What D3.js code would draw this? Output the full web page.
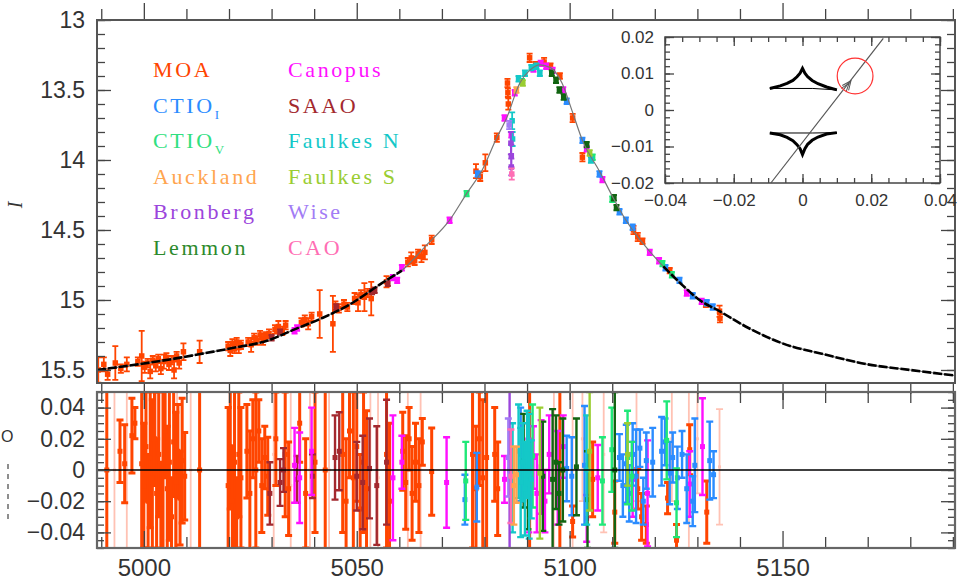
<!DOCTYPE html>
<html>
<head>
<meta charset="utf-8">
<title>Light curve and residuals</title>
<style>
  body { margin: 0; background: #fff; }
  svg { display: block; }
  .tick text { font-family: "Liberation Sans", Arial, sans-serif; fill: #333; }
  .tick line { stroke: #444; }
  .legend text { font-family: "Liberation Serif", "Times New Roman", serif; }
</style>
<script src="https://cdnjs.cloudflare.com/ajax/libs/d3/7.8.5/d3.min.js"></script>
</head>
<body>
<script>
const width = 957, height = 580

// model light curve (HJD-2450000, I mag)
const modelT = [4989, 4998.6, 5008.9, 5014.3, 5021.4, 5029.1, 5035.4, 5041.8, 5047.9, 5055.9, 5060.6, 5066, 5071.8, 5075.8, 5079.5, 5082.9, 5085.2, 5088.3, 5090.6, 5093, 5095.5, 5098.2, 5100.7, 5103, 5107, 5110.4, 5113, 5116, 5119, 5122, 5126, 5130.5, 5135.2, 5142, 5150, 5160, 5170, 5180, 5190.5]
const modelMag = [15.50, 15.46, 15.41, 15.38, 15.34, 15.29, 15.21, 15.13, 15.04, 14.88, 14.79, 14.62, 14.43, 14.24, 14.07, 13.84, 13.70, 13.45, 13.36, 13.32, 13.34, 13.45, 13.66, 13.86, 14.08, 14.28, 14.42, 14.55, 14.66, 14.76, 14.88, 15.00, 15.08, 15.20, 15.31, 15.39, 15.46, 15.50, 15.54]

// light curve points [t, mag, err]
const moaLC = [
  [4989.3, 15.50, 0.09], [4990.6, 15.46, 0.05], [4991.5, 15.53, 0.04], [4993.3, 15.45, 0.12], [4994.6, 15.49, 0.03],
  [4996.0, 15.46, 0.05], [4998.6, 15.44, 0.03], [4999.5, 15.40, 0.18], [5000.2, 15.48, 0.04], [5000.9, 15.45, 0.03],
  [5001.5, 15.51, 0.05], [5002.1, 15.43, 0.03], [5002.8, 15.47, 0.04], [5003.4, 15.42, 0.03], [5004.0, 15.49, 0.04],
  [5004.7, 15.44, 0.05], [5005.3, 15.41, 0.03], [5005.9, 15.46, 0.04], [5006.6, 15.43, 0.03], [5007.1, 15.50, 0.06],
  [5007.7, 15.40, 0.03], [5008.3, 15.45, 0.04], [5009.3, 15.37, 0.06], [5013.1, 15.37, 0.08],
  [5019.8, 15.33, 0.03], [5020.3, 15.36, 0.04], [5020.8, 15.31, 0.03], [5021.3, 15.35, 0.03], [5021.8, 15.30, 0.03],
  [5022.3, 15.34, 0.04], [5022.8, 15.32, 0.03], [5024.5, 15.30, 0.03], [5025.2, 15.32, 0.05], [5025.9, 15.27, 0.03],
  [5026.6, 15.29, 0.03], [5027.3, 15.25, 0.03], [5028.0, 15.28, 0.04], [5028.7, 15.26, 0.03], [5029.4, 15.24, 0.03],
  [5030.8, 15.21, 0.03], [5031.6, 15.19, 0.04], [5032.5, 15.22, 0.03], [5033.3, 15.18, 0.03], [5037.0, 15.16, 0.03],
  [5037.8, 15.14, 0.03], [5038.6, 15.17, 0.04], [5039.4, 15.12, 0.03], [5041.3, 15.10, 0.17], [5044.4, 15.17, 0.20],
  [5045.0, 15.04, 0.03], [5045.8, 15.06, 0.03], [5047.0, 15.03, 0.03], [5047.8, 15.05, 0.03], [5049.5, 14.99, 0.04],
  [5050.3, 15.02, 0.06], [5051.0, 14.96, 0.03], [5051.8, 14.98, 0.10], [5052.6, 14.95, 0.03], [5053.4, 14.99, 0.12],
  [5057.0, 14.87, 0.04], [5062.0, 14.73, 0.03], [5062.8, 14.70, 0.04], [5063.6, 14.72, 0.03], [5064.4, 14.67, 0.03],
  [5065.2, 14.69, 0.04], [5066.0, 14.66, 0.05], [5067.6, 14.57, 0.03], [5078.0, 14.08, 0.05], [5079.0, 14.12, 0.03],
  [5080.2, 14.02, 0.06], [5082.9, 13.84, 0.03], [5085.4, 13.45, 0.03], [5085.5, 13.52, 0.03], [5085.6, 13.60, 0.04],
  [5090.6, 13.27, 0.03], [5092.0, 13.32, 0.02], [5094.0, 13.30, 0.03], [5095.5, 13.33, 0.02], [5097.7, 13.40, 0.02],
  [5100.7, 13.70, 0.03], [5103.0, 13.98, 0.03], [5115.0, 14.50, 0.03], [5116.0, 14.55, 0.03], [5117.1, 14.58, 0.02],
  [5123.5, 14.79, 0.02], [5132.0, 15.03, 0.02], [5135.2, 15.08, 0.04], [5135.3, 15.13, 0.03]
]
const canopusLC = [
  [5035.4, 15.22, 0.02], [5036.0, 15.20, 0.02], [5058.5, 14.84, 0.02], [5059.5, 14.86, 0.02], [5060.6, 14.77, 0.02],
  [5071.8, 14.43, 0.02], [5084.7, 13.70, 0.02], [5086.3, 13.82, 0.02], [5087.1, 13.52, 0.02], [5091.5, 13.35, 0.02],
  [5093.2, 13.31, 0.02], [5094.5, 13.33, 0.02], [5096.0, 13.36, 0.02], [5098.5, 13.50, 0.02], [5104.0, 13.92, 0.02],
  [5107.7, 14.14, 0.02], [5118.8, 14.66, 0.02], [5121.0, 14.72, 0.02], [5127.5, 14.95, 0.02], [5131.0, 15.01, 0.02]
]
const ctioILC = [
  [5078.4, 14.10, 0.02], [5099.3, 13.58, 0.02], [5103.0, 13.86, 0.02], [5107.0, 14.10, 0.02], [5111.7, 14.37, 0.02],
  [5113.2, 14.43, 0.02], [5114.8, 14.48, 0.02], [5122.5, 14.77, 0.02], [5125.8, 14.86, 0.02], [5128.9, 14.97, 0.02],
  [5132.2, 15.02, 0.02], [5133.6, 15.05, 0.02]
]
const ctioVLC = [[5075.8, 14.24, 0.02], [5088.8, 13.44, 0.02], [5105.4, 13.98, 0.02], [5110.0, 14.28, 0.02], [5121.8, 14.74, 0.02], [5124.0, 14.82, 0.02]]
const lemmonLC = [[5095.8, 13.38, 0.02], [5096.8, 13.43, 0.02], [5097.6, 13.50, 0.02], [5098.6, 13.55, 0.02], [5104.0, 13.89, 0.02], [5110.4, 14.27, 0.02], [5111.0, 14.34, 0.02]]
const faulkesNLC = [[5086.5, 13.72, 0.06], [5086.6, 13.85, 0.05], [5088.0, 13.42, 0.02], [5089.5, 13.38, 0.02], [5091.0, 13.34, 0.02], [5092.2, 13.33, 0.02], [5093.0, 13.38, 0.02], [5105.0, 14.00, 0.02]]
const faulkesSLC = [[5089.0, 13.45, 0.02], [5104.7, 13.95, 0.02]]
const bronbergLC = [[5086.2, 13.88, 0.08], [5086.3, 13.97, 0.08], [5086.3, 14.05, 0.06]]
const caoLC = [[5086.4, 14.10, 0.04]]
const saaoLC = [[5030.0, 15.27, 0.02], [5032.0, 15.23, 0.02], [5045.2, 15.05, 0.02], [5053.6, 14.94, 0.02], [5054.2, 14.93, 0.02], [5057.3, 14.88, 0.02]]
const aucklandLC = [[5087.5, 13.50, 0.02]]
const wiseLC = [[5085.8, 13.75, 0.03]]

// residuals [t, obs - model, err]
const moaRes = [
  [4991.3, 0.0, 0.12], [4994.4, 0.012, 0.02], [4995.5, 0.004, 0.025], [4997.2, 0.022, 0.024], [4997.9, 0.030, 0.010],
  [4999.5, 0.004, 0.055], [5000.0, -0.010, 0.040], [5000.5, 0.015, 0.035], [5001.0, -0.020, 0.030], [5001.5, 0.008, 0.045],
  [5002.0, -0.005, 0.050], [5002.5, 0.020, 0.030], [5003.0, -0.015, 0.035], [5003.5, 0.010, 0.040], [5004.0, -0.025, 0.030],
  [5004.5, 0.000, 0.055], [5005.0, 0.025, 0.030], [5005.5, -0.012, 0.040], [5006.0, 0.005, 0.050], [5006.5, -0.030, 0.025],
  [5007.0, 0.018, 0.035], [5007.5, -0.008, 0.045], [5008.0, 0.012, 0.030], [5008.5, -0.018, 0.030], [5009.0, 0.006, 0.040],
  [5009.6, -0.004, 0.028], [5013.1, 0.0, 0.12],
  [5019.8, -0.010, 0.050], [5020.3, 0.015, 0.040], [5020.8, -0.020, 0.035], [5021.3, 0.005, 0.055], [5021.8, -0.030, 0.025],
  [5022.3, 0.010, 0.040], [5022.8, -0.005, 0.045], [5024.2, 0.012, 0.030], [5024.9, -0.015, 0.040], [5025.6, 0.020, 0.025],
  [5026.3, 0.000, 0.050], [5027.0, 0.025, 0.020], [5027.7, -0.010, 0.030], [5028.4, 0.008, 0.020], [5029.1, -0.004, 0.025],
  [5031.0, 0.020, 0.030], [5033.2, 0.010, 0.040], [5034.0, -0.012, 0.030], [5036.6, 0.030, 0.025], [5038.0, -0.015, 0.035],
  [5040.2, 0.005, 0.045], [5042.6, 0.0, 0.10],
  [5046.7, 0.010, 0.050], [5047.5, -0.020, 0.040], [5048.3, 0.025, 0.030], [5049.2, -0.005, 0.055], [5050.0, 0.015, 0.035],
  [5050.8, -0.025, 0.035], [5051.6, 0.005, 0.045], [5052.3, -0.012, 0.050], [5057.0, 0.010, 0.060], [5057.7, -0.020, 0.050],
  [5060.8, 0.012, 0.025], [5061.5, -0.008, 0.030], [5062.3, 0.020, 0.020], [5063.0, -0.015, 0.030], [5063.8, 0.005, 0.025],
  [5064.6, -0.010, 0.030], [5065.4, 0.018, 0.015], [5067.6, -0.001, 0.028],
  [5077.2, 0.010, 0.060], [5078.0, -0.012, 0.040], [5078.8, 0.020, 0.030], [5079.6, -0.005, 0.050], [5080.5, 0.008, 0.060],
  [5082.4, 0.010, 0.030], [5083.1, -0.012, 0.030], [5090.6, 0.0, 0.08], [5097.7, 0.0, 0.06],
  [5100.7, -0.033, 0.010], [5105.4, -0.006, 0.024], [5110.6, -0.027, 0.020], [5116.0, -0.012, 0.013], [5116.9, -0.030, 0.015],
  [5118.0, -0.035, 0.012], [5123.0, -0.018, 0.010], [5125.1, -0.045, 0.010], [5128.2, 0.013, 0.016], [5132.2, -0.027, 0.020]
]
// low-weight MOA points (drawn pale)
const moaResFaint = [
  [4993.1, 0.0, 0.10], [4996.0, 0.0, 0.10], [5003.0, -0.010, 0.060], [5007.8, 0.0, 0.080], [5011.0, 0.0, 0.10],
  [5030.5, 0.010, 0.060], [5034.5, -0.010, 0.070], [5039.0, 0.0, 0.080], [5043.5, 0.0, 0.080], [5053.2, 0.0, 0.070],
  [5055.0, -0.005, 0.060], [5062.0, 0.0, 0.050], [5065.0, 0.003, 0.060], [5096.3, 0.0, 0.070], [5100.7, 0.0, 0.055],
  [5103.0, 0.020, 0.040], [5108.0, 0.010, 0.050], [5115.7, 0.015, 0.035], [5124.0, 0.020, 0.040], [5128.0, 0.0, 0.060],
  [5130.0, 0.020, 0.035], [5135.2, 0.002, 0.037]
]
const saaoRes = [
  [5029.6, -0.015, 0.020], [5032.0, -0.008, 0.015], [5032.8, 0.000, 0.014], [5036.0, -0.006, 0.015], [5039.6, -0.004, 0.014],
  [5044.9, 0.008, 0.027], [5045.9, 0.012, 0.025], [5050.0, -0.004, 0.022], [5051.4, -0.008, 0.030], [5053.0, 0.001, 0.032],
  [5054.7, -0.010, 0.038], [5057.0, 0.005, 0.040]
]
const canopusRes = [
  [5035.4, 0.003, 0.024], [5036.6, -0.005, 0.029], [5039.4, 0.012, 0.028], [5058.5, -0.005, 0.040], [5060.6, 0.005, 0.017],
  [5071.1, -0.008, 0.029], [5084.7, -0.006, 0.015], [5088.8, 0.005, 0.025], [5090.4, -0.010, 0.030], [5091.5, 0.008, 0.020],
  [5092.3, -0.015, 0.025], [5093.3, 0.002, 0.030], [5094.2, -0.020, 0.020], [5095.2, 0.010, 0.025], [5097.2, -0.005, 0.030],
  [5098.5, 0.015, 0.020], [5104.0, -0.031, 0.015], [5106.6, -0.005, 0.021], [5114.8, -0.006, 0.024], [5118.3, -0.015, 0.034],
  [5128.2, -0.009, 0.021], [5131.2, 0.015, 0.031]
]
const ctioIRes = [
  [5075.4, -0.019, 0.016], [5078.2, -0.011, 0.022], [5088.5, 0.010, 0.030], [5099.3, 0.001, 0.021], [5100.5, -0.004, 0.025],
  [5103.5, 0.003, 0.038], [5111.7, 0.008, 0.015], [5112.5, -0.010, 0.020], [5113.3, 0.004, 0.025], [5114.0, -0.015, 0.018],
  [5114.8, 0.010, 0.020], [5115.6, -0.004, 0.030], [5116.5, 0.014, 0.012], [5117.3, -0.020, 0.015], [5118.0, 0.006, 0.018],
  [5119.5, 0.005, 0.022], [5121.6, 0.012, 0.022], [5122.4, 0.018, 0.015], [5123.5, -0.002, 0.020], [5124.2, 0.008, 0.016],
  [5125.3, -0.005, 0.020], [5126.4, 0.010, 0.015], [5127.5, -0.012, 0.022], [5128.9, -0.020, 0.016], [5129.4, 0.003, 0.030],
  [5132.9, 0.006, 0.025], [5133.8, -0.003, 0.015]
]
const ctioVRes = [
  [5075.6, -0.007, 0.025], [5091.3, 0.009, 0.033], [5107.7, -0.007, 0.028], [5109.9, 0.013, 0.027], [5113.6, 0.008, 0.030],
  [5114.6, -0.004, 0.022], [5122.8, 0.019, 0.025], [5125.1, -0.021, 0.022]
]
const lemmonRes = [
  [5089.2, 0.006, 0.030], [5090.2, -0.010, 0.028], [5093.7, -0.004, 0.035], [5096.0, -0.006, 0.045], [5096.8, 0.005, 0.030],
  [5097.5, -0.015, 0.020], [5098.4, 0.000, 0.033], [5101.6, 0.002, 0.031], [5104.2, -0.019, 0.031], [5110.6, 0.000, 0.050]
]
const faulkesNRes = [
  [5086.6, -0.005, 0.035], [5088.0, 0.012, 0.030], [5088.5, -0.008, 0.035], [5089.0, 0.005, 0.025], [5089.5, -0.012, 0.030],
  [5090.0, 0.010, 0.028], [5090.5, -0.004, 0.040], [5091.0, -0.006, 0.025], [5104.0, 0.000, 0.035]
]
const faulkesSRes = [[5093.0, -0.002, 0.042], [5104.7, 0.012, 0.038], [5113.6, 0.010, 0.020]]
const bronbergRes = [[5085.9, 0.0, 0.07]]
const wiseRes = [[5085.6, 0.008, 0.025]]
const caoRes = [[5086.2, -0.004, 0.030]]
const aucklandRes = [[5086.9, -0.010, 0.025], [5087.5, -0.003, 0.018]]

// legend
const legendCol1 = ["MOA", "CTIO_I", "CTIO_V", "Auckland", "Bronberg", "Lemmon"]
const legendCol2 = ["Canopus", "SAAO", "Faulkes N", "Faulkes S", "Wise", "CAO"]

// axis ticks
const xMajor = [5000, 5050, 5100, 5150]
const yMainTicks = [13, 13.5, 14, 14.5, 15, 15.5]
const yResTicks = [-0.04, -0.02, 0, 0.02, 0.04]

// inset: caustics and source path (theta_E units)
const causticUpX = [-0.0095, -0.0065, -0.0045, -0.0028, -0.0016, -0.0007, 0, 0.0007, 0.0015, 0.0028, 0.0045, 0.007, 0.0100, 0.003, -0.0095]
const causticUpY = [0.0059, 0.0066, 0.0073, 0.0081, 0.0091, 0.0101, 0.0114, 0.0101, 0.0091, 0.0081, 0.0072, 0.0063, 0.0055, 0.0059, 0.0059]
const causticLoX = [-0.0095, -0.0065, -0.0045, -0.0028, -0.0016, -0.0007, 0, 0.0007, 0.0015, 0.0028, 0.0045, 0.007, 0.0100, 0.003, -0.0095]
const causticLoY = [-0.0063, -0.0068, -0.0075, -0.0084, -0.0095, -0.0106, -0.0122, -0.0106, -0.0094, -0.0083, -0.0074, -0.0066, -0.0062, -0.0063, -0.0063]
const trajX = [-0.0092, 0.0235]
const trajY = [-0.020, 0.0196]
const sourceX = 0.0153, sourceY = 0.0093, sourceRho = 0.0052
const insetXLabels = [-0.04, -0.02, 0, 0.02, 0.04]
const insetYLabels = [-0.02, -0.01, 0, 0.01, 0.02]

const colors = {
  "MOA": "#ff4500", "CTIO_I": "#2b8cff", "CTIO_V": "#1fe878", "Auckland": "#ffa54f",
  "Bronberg": "#9b45dc", "Lemmon": "#116411", "Canopus": "#ff10ff", "SAAO": "#a3292e",
  "Faulkes N": "#14c8c8", "Faulkes S": "#9acd32", "Wise": "#a27cf5", "CAO": "#ff6eb4"
}
const legendColors = Object.assign({}, colors, { "Lemmon": "#2c8a2c", "CTIO_V": "#30e080" })

const svg = d3.select("body").append("svg").attr("width", width).attr("height", height)

const x = d3.scaleLinear().domain([4989, 5190.5]).range([97, 955])
const yMain = d3.scaleLinear().domain([13, 15.593]).range([20, 383])
const yRes = d3.scaleLinear().domain([-0.05, 0.05]).range([548, 392])

const defs = svg.append("defs")
defs.append("clipPath").attr("id", "clipMain").append("rect")
  .attr("x", x.range()[0]).attr("y", yMain.range()[0])
  .attr("width", x.range()[1] - x.range()[0]).attr("height", yMain.range()[1] - yMain.range()[0])
defs.append("clipPath").attr("id", "clipRes").append("rect")
  .attr("x", x.range()[0]).attr("y", yRes.range()[1])
  .attr("width", x.range()[1] - x.range()[0]).attr("height", yRes.range()[0] - yRes.range()[1])

function errPath(ys, cap) {
  return d => {
    const xx = x(d[0]), y1 = ys(d[1] - d[2]), y2 = ys(d[1] + d[2])
    return `M${xx},${y1}V${y2}M${xx - cap},${y1}H${xx + cap}M${xx - cap},${y2}H${xx + cap}`
  }
}

function drawSet(g, data, ys, color, sw, cap, size, op) {
  const s = g.append("g").attr("opacity", op)
  s.selectAll("path").data(data).join("path")
    .attr("d", errPath(ys, cap))
    .attr("fill", "none").attr("stroke", color).attr("stroke-width", sw)
  s.selectAll("rect").data(data).join("rect")
    .attr("x", d => x(d[0]) - size / 2).attr("y", d => ys(d[1]) - size / 2)
    .attr("width", size).attr("height", size).attr("fill", color)
}

// ---------- main panel ----------
const gMain = svg.append("g").attr("clip-path", "url(#clipMain)")
const lcSets = [
  [moaLC, "MOA"], [saaoLC, "SAAO"], [canopusLC, "Canopus"], [ctioILC, "CTIO_I"], [ctioVLC, "CTIO_V"],
  [lemmonLC, "Lemmon"], [faulkesNLC, "Faulkes N"], [faulkesSLC, "Faulkes S"], [bronbergLC, "Bronberg"],
  [wiseLC, "Wise"], [caoLC, "CAO"], [aucklandLC, "Auckland"]
]
lcSets.forEach(([data, name]) => drawSet(gMain, data, yMain, colors[name], 1.8, 3, 5.5, 1))

const model = d3.zip(modelT, modelMag)
const modelLine = d3.line().x(d => x(d[0])).y(d => yMain(d[1])).curve(d3.curveMonotoneX)
gMain.append("path").attr("d", modelLine(model))
  .attr("fill", "none").attr("stroke", "#777").attr("stroke-width", 1.2)
gMain.append("path").attr("d", modelLine(model.filter(d => d[0] < 5066)))
  .attr("fill", "none").attr("stroke", "#000").attr("stroke-width", 2.6).attr("stroke-dasharray", "9,2")
gMain.append("path").attr("d", modelLine(model.filter(d => d[0] > 5119)))
  .attr("fill", "none").attr("stroke", "#000").attr("stroke-width", 2.6).attr("stroke-dasharray", "9,2")

// ---------- residual panel ----------
const gRes = svg.append("g").attr("clip-path", "url(#clipRes)")
drawSet(gRes, moaResFaint, yRes, "#ff7a5a", 1.8, 3.5, 3, 0.45)
const resSets = [
  [moaRes, "MOA"], [saaoRes, "SAAO"], [canopusRes, "Canopus"], [ctioIRes, "CTIO_I"], [ctioVRes, "CTIO_V"],
  [lemmonRes, "Lemmon"], [faulkesNRes, "Faulkes N"], [faulkesSRes, "Faulkes S"], [bronbergRes, "Bronberg"],
  [wiseRes, "Wise"], [caoRes, "CAO"], [aucklandRes, "Auckland"]
]
resSets.forEach(([data, name]) => drawSet(gRes, data, yRes, colors[name], name === "MOA" ? 3 : 2.4, 3.5, 5, 1))
svg.append("line")
  .attr("x1", x.range()[0]).attr("x2", x.range()[1]).attr("y1", yRes(0)).attr("y2", yRes(0))
  .attr("stroke", "#000").attr("stroke-width", 1.6)

// ---------- axes ----------
function addAxis(gen, scale, vals, size, tx, ty, fmt, pad, fs) {
  const a = gen(scale).tickValues(vals).tickSizeInner(-size).tickSizeOuter(0).tickPadding(pad || 0)
  a.tickFormat(fmt || (() => ""))
  const g = svg.append("g").attr("transform", `translate(${tx},${ty})`).call(a)
  g.select(".domain").remove()
  g.selectAll(".tick line").attr("stroke-width", 1.3)
  if (fs) g.selectAll(".tick text").attr("font-size", fs)
  return g
}
const x10 = d3.range(4990, 5191, 10).filter(v => v % 50 !== 0)
const yMainMinor = d3.range(130, 156).map(v => v / 10)
const yResMinor = d3.range(-10, 11).map(v => v / 200)
const [xl, xr] = x.range()

// main panel
addAxis(d3.axisLeft, yMain, yMainTicks, 14, xl, 0, d3.format("~g"), 12, 23)
addAxis(d3.axisLeft, yMain, yMainMinor, 8, xl, 0)
addAxis(d3.axisRight, yMain, yMainTicks, 14, xr, 0)
addAxis(d3.axisRight, yMain, yMainMinor, 8, xr, 0)
addAxis(d3.axisTop, x, xMajor, 17, 0, yMain.range()[1])
addAxis(d3.axisTop, x, x10, 11, 0, yMain.range()[1])
addAxis(d3.axisBottom, x, xMajor, 17, 0, yMain.range()[0])
addAxis(d3.axisBottom, x, x10, 11, 0, yMain.range()[0])

// residual panel
const resFmt = d => d === 0 ? "0" : d3.format(".2f")(d)
addAxis(d3.axisLeft, yRes, yResTicks, 14, xl, 0, resFmt, 12, 23)
addAxis(d3.axisLeft, yRes, yResMinor, 7, xl, 0)
addAxis(d3.axisRight, yRes, yResTicks, 14, xr, 0)
addAxis(d3.axisRight, yRes, yResMinor, 7, xr, 0)
addAxis(d3.axisBottom, x, xMajor, 17, 0, yRes.range()[0], d3.format("d"), 11, 24)
addAxis(d3.axisBottom, x, x10, 11, 0, yRes.range()[0])
addAxis(d3.axisTop, x, xMajor, 17, 0, yRes.range()[1])
addAxis(d3.axisTop, x, x10, 11, 0, yRes.range()[1])

// frames
svg.append("rect").attr("x", xl).attr("y", yMain.range()[0]).attr("width", xr - xl)
  .attr("height", yMain.range()[1] - yMain.range()[0]).attr("fill", "none").attr("stroke", "#555").attr("stroke-width", 2)
svg.append("rect").attr("x", xl).attr("y", yRes.range()[1]).attr("width", xr - xl)
  .attr("height", yRes.range()[0] - yRes.range()[1]).attr("fill", "none").attr("stroke", "#666").attr("stroke-width", 2.2)

// y labels
svg.append("text").attr("transform", "translate(22,205) rotate(-90)")
  .attr("text-anchor", "middle").attr("font-family", "Liberation Serif, serif").attr("font-style", "italic")
  .attr("font-size", 20).attr("fill", "#333").text("I")
svg.append("text").attr("x", 1).attr("y", 442)
  .attr("font-family", "Liberation Sans, sans-serif").attr("font-size", 16).attr("fill", "#333").text("O")
svg.append("line").attr("x1", 8).attr("x2", 8).attr("y1", 464).attr("y2", 522)
  .attr("stroke", "#444").attr("stroke-width", 1.2).attr("stroke-dasharray", "5,5")

// ---------- legend ----------
const legend = svg.append("g").attr("class", "legend")
function legendText(name, lx, ly) {
  const t = legend.append("text").attr("x", lx).attr("y", ly)
    .attr("font-size", 22).attr("letter-spacing", 2.6).attr("fill", legendColors[name])
  const parts = name.split("_")
  t.append("tspan").text(parts[0])
  if (parts[1]) t.append("tspan").attr("font-size", 13).attr("dy", 6).text(parts[1])
}
legendCol1.forEach((n, i) => legendText(n, 153, 77 + i * 35.6))
legendCol2.forEach((n, i) => legendText(n, 288, 77 + i * 35.6))

// ---------- inset ----------
const ix = d3.scaleLinear().domain([-0.04, 0.04]).range([665, 940])
const iy = d3.scaleLinear().domain([-0.02, 0.02]).range([183, 37])
svg.append("rect").attr("x", 665).attr("y", 37).attr("width", 275).attr("height", 146).attr("fill", "#fff")

const insetFmt = d => d === 0 ? "0" : d3.format(".2f")(d)
const ixMinor = d3.range(-8, 9).map(v => v / 200)
const iyMinor = d3.range(-10, 11).map(v => v / 500)
addAxis(d3.axisBottom, ix, insetXLabels, 9, 0, 183, insetFmt, 11, 17)
addAxis(d3.axisBottom, ix, ixMinor, 5, 0, 183)
addAxis(d3.axisTop, ix, insetXLabels, 9, 0, 37)
addAxis(d3.axisTop, ix, ixMinor, 5, 0, 37)
addAxis(d3.axisLeft, iy, insetYLabels, 9, 665, 0, insetFmt, 11, 17)
addAxis(d3.axisLeft, iy, iyMinor, 5, 665, 0)
addAxis(d3.axisRight, iy, insetYLabels, 9, 940, 0)
addAxis(d3.axisRight, iy, iyMinor, 5, 940, 0)
svg.append("rect").attr("x", 665).attr("y", 37).attr("width", 275).attr("height", 146)
  .attr("fill", "none").attr("stroke", "#444").attr("stroke-width", 1.5)

const cLine = d3.line().x(d => ix(d[0])).y(d => iy(d[1]))
;[[causticUpX, causticUpY], [causticLoX, causticLoY]].forEach(([cx, cy]) => {
  const pts = d3.zip(cx, cy)
  svg.append("path").attr("d", cLine(pts)).attr("fill", "none").attr("stroke", "#000").attr("stroke-width", 1)
  svg.append("path").attr("d", cLine(pts.slice(0, 13))).attr("fill", "none").attr("stroke", "#000").attr("stroke-width", 3)
})
svg.append("path").attr("d", cLine(d3.zip(trajX, trajY)))
  .attr("fill", "none").attr("stroke", "#555").attr("stroke-width", 1.2)
// arrow head on trajectory
const ang = Math.atan2(iy(trajY[1]) - iy(trajY[0]), ix(trajX[1]) - ix(trajX[0]))
const ax0 = ix(sourceX - 0.0012), ay0 = iy(sourceY - 0.0013)
svg.append("g").attr("transform", `translate(${ax0},${ay0}) rotate(${ang * 180 / Math.PI})`)
  .append("path").attr("d", "M-9,-4L0,0L-9,4M-12,-3L-3,0L-12,3")
  .attr("fill", "none").attr("stroke", "#555").attr("stroke-width", 1)
svg.append("ellipse").attr("cx", ix(sourceX)).attr("cy", iy(sourceY))
  .attr("rx", ix(sourceRho) - ix(0)).attr("ry", ix(sourceRho) - ix(0))
  .attr("fill", "none").attr("stroke", "#f33").attr("stroke-width", 1.2)
</script>
</body>
</html>
